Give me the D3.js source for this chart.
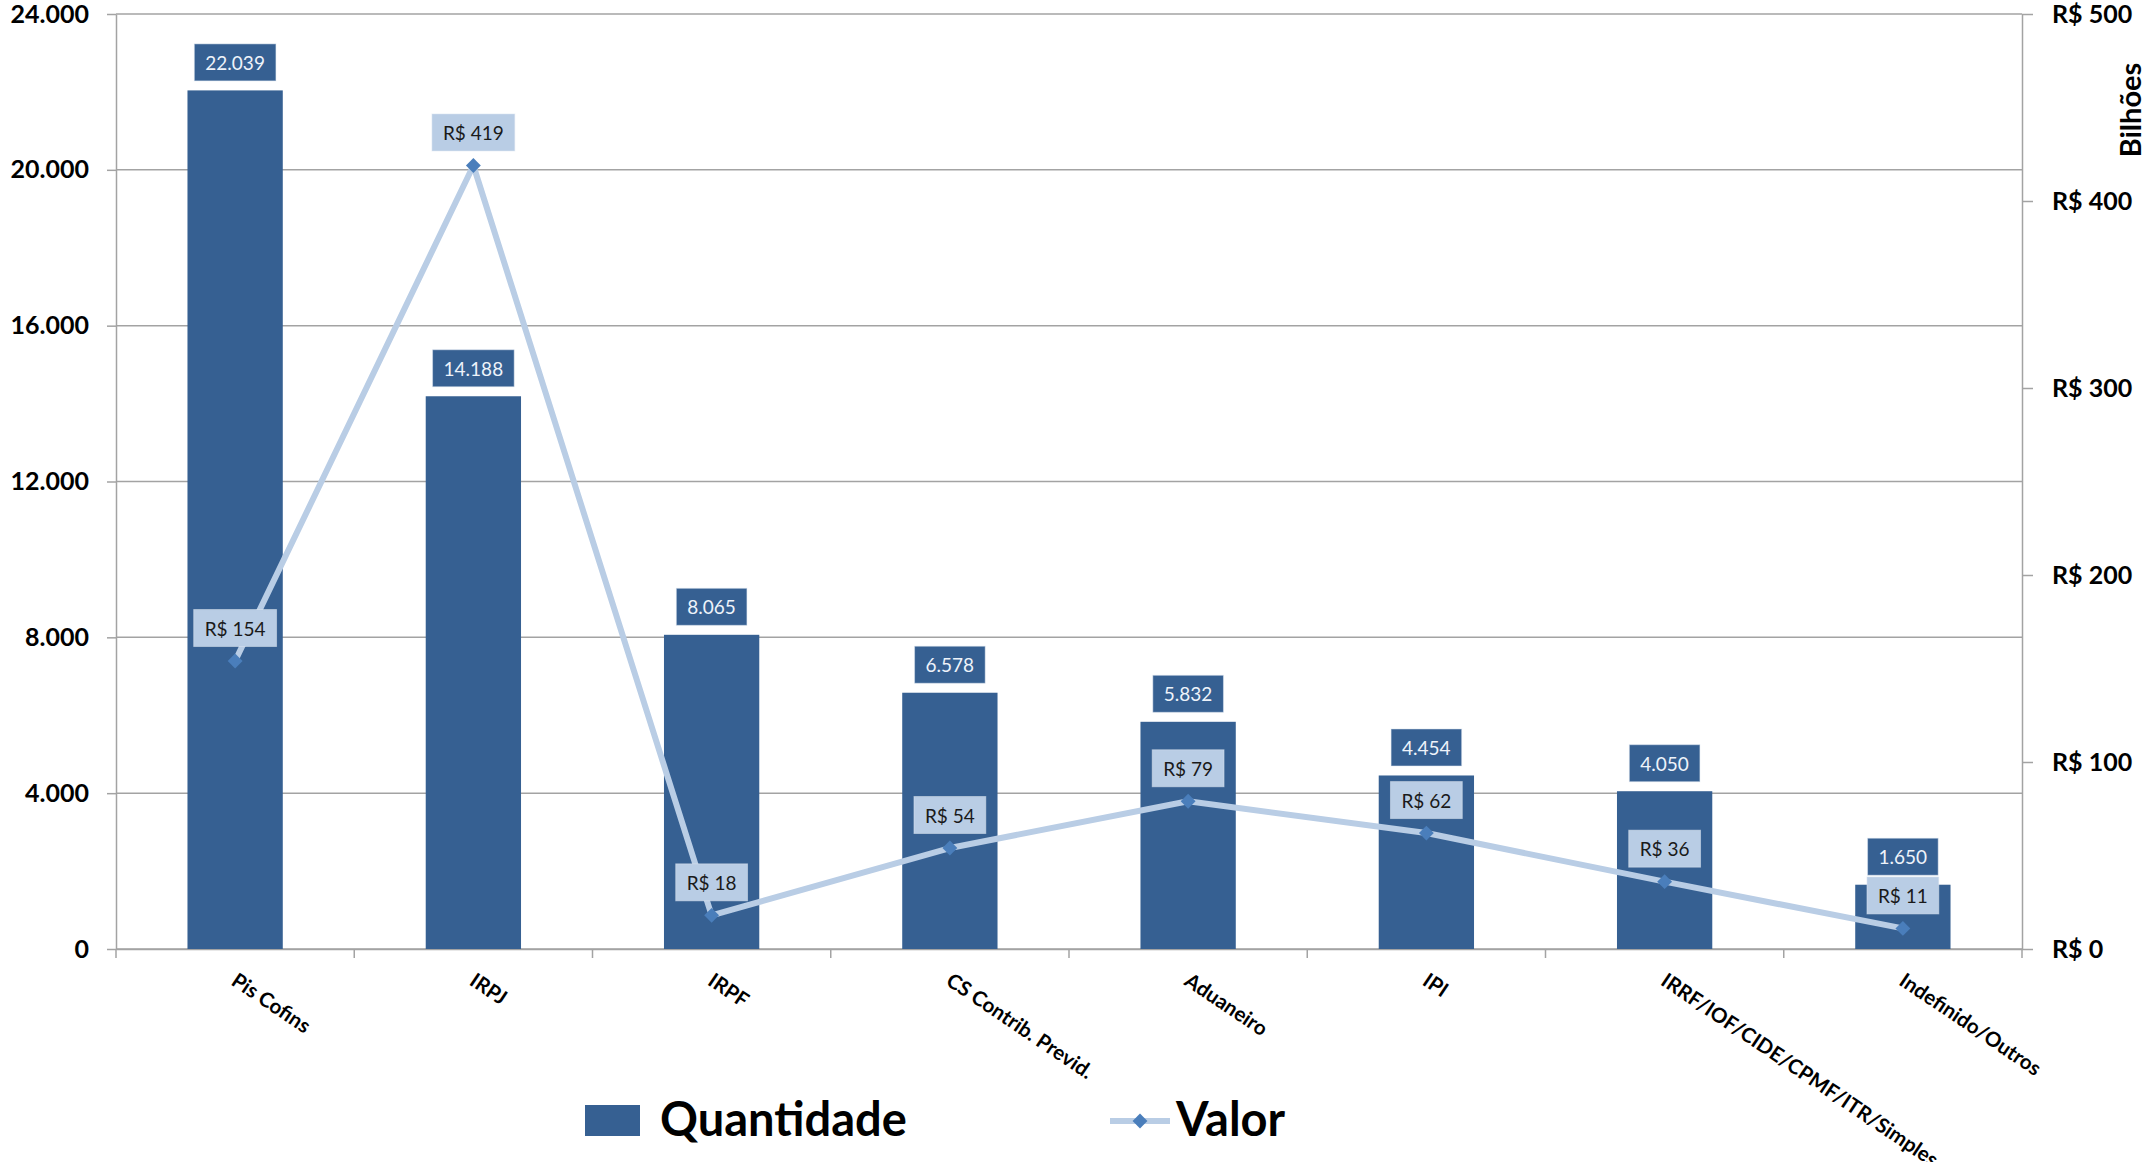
<!DOCTYPE html>
<html>
<head>
<meta charset="utf-8">
<script src="https://cdn.jsdelivr.net/npm/d3@7"></script>
<style>
  body { margin: 0; background: #fff; }
  svg { display: block; font-family: Lato, "Open Sans", sans-serif; }
</style>
</head>
<body>
<svg id="chart" width="2147" height="1162"></svg>
<script>
const categories = ["Pis Cofins", "IRPJ", "IRPF", "CS Contrib. Previd.", "Aduaneiro", "IPI",
    "IRRF/IOF/CIDE/CPMF/ITR/Simples", "Indefinido/Outros"];
const quantidade = [22039, 14188, 8065, 6578, 5832, 4454, 4050, 1650];
const valor = [154, 419, 18, 54, 79, 62, 36, 11];
const leftTicks = [0, 4000, 8000, 12000, 16000, 20000, 24000];
const rightTicks = [0, 100, 200, 300, 400, 500];
const legendLabels = ["Quantidade", "Valor"];

const barColor = "#366092";
const lineColor = "#b9cde5";
const markerColor = "#4a7ebb";
const gridColor = "#a3a3a3";

const ptBR = d3.formatLocale({decimal: ",", thousands: ".", grouping: [3], currency: ["R$ ", ""]});
const fmtNum = ptBR.format(",d");
const fmtReal = d => `R$ ${d}`;

const svg = d3.select("#chart");
const margin = {top: 14, right: 125, bottom: 213, left: 116};
const width = 2147 - margin.left - margin.right;
const height = 1162 - margin.top - margin.bottom;

const g = svg.append("g").attr("transform", `translate(${margin.left},${margin.top})`);

// scales
const x = d3.scaleBand().domain(categories).range([0, width]).padding(0);
const yLeft = d3.scaleLinear().domain([0, 24000]).range([height, 0]);
const yRight = d3.scaleLinear().domain([0, 500]).range([height, 0]);
const barW = x.bandwidth() * 0.4;

// gridlines
g.selectAll(".grid")
    .data(leftTicks)
    .enter().append("line")
    .attr("x1", 0).attr("x2", width)
    .attr("y1", d => yLeft(d)).attr("y2", d => yLeft(d))
    .attr("stroke", gridColor)
    .attr("stroke-width", 1.5);

// left axis
const leftAxis = g.append("g")
    .call(d3.axisLeft(yLeft).tickValues(leftTicks).tickFormat(fmtNum).tickSize(9).tickSizeOuter(0).tickPadding(18));
leftAxis.selectAll("path, line").attr("stroke", gridColor).attr("stroke-width", 1.5);
leftAxis.selectAll("text")
    .attr("font-family", "Lato")
    .attr("font-size", "25px")
    .attr("font-weight", "bold")
    .attr("fill", "#000");

// right axis
const rightAxis = g.append("g")
    .attr("transform", `translate(${width},0)`)
    .call(d3.axisRight(yRight).tickValues(rightTicks).tickFormat(fmtReal).tickSize(11).tickSizeOuter(0).tickPadding(19));
rightAxis.selectAll("path, line").attr("stroke", gridColor).attr("stroke-width", 1.5);
rightAxis.selectAll("text")
    .attr("font-family", "Lato")
    .attr("font-size", "25px")
    .attr("font-weight", "bold")
    .attr("fill", "#000");

svg.append("text")
    .attr("transform", "translate(2141,110) rotate(-90)")
    .attr("text-anchor", "middle")
    .attr("font-size", "29px")
    .attr("font-weight", "bold")
    .text("Bilhões");

// x axis: ticks at category boundaries
const xAxis = g.append("g")
    .attr("transform", `translate(0,${height})`)
    .call(d3.axisBottom(x).tickSize(0).tickSizeOuter(0).tickPadding(0));
xAxis.select(".domain").attr("stroke", gridColor).attr("stroke-width", 1.5);
xAxis.selectAll("text")
    .attr("y", 0)
    .attr("dy", "0.7em")
    .attr("text-anchor", "start")
    .attr("transform", "translate(3,23) rotate(34)")
    .attr("font-family", "Lato")
    .attr("font-size", "20.5px")
    .attr("font-weight", "bold")
    .attr("fill", "#000");
g.selectAll(".xbound")
    .data(d3.range(categories.length + 1))
    .enter().append("line")
    .attr("x1", i => i * x.step()).attr("x2", i => i * x.step())
    .attr("y1", height).attr("y2", height + 9)
    .attr("stroke", gridColor)
    .attr("stroke-width", 1.5);

// bars
g.selectAll(".bar")
    .data(quantidade)
    .enter().append("rect")
    .attr("x", (d, i) => x(categories[i]) + (x.bandwidth() - barW) / 2)
    .attr("y", d => yLeft(d))
    .attr("width", barW)
    .attr("height", d => height - yLeft(d))
    .attr("fill", barColor);

// label box helper
function boxLabel(parent, cx, cy, txt, fill, textFill) {
    const lg = parent.append("g");
    const t = lg.append("text")
        .attr("x", cx).attr("y", cy)
        .attr("text-anchor", "middle")
        .attr("dominant-baseline", "central")
        .attr("font-size", "19px")
        .attr("fill", textFill)
        .text(txt);
    const w = t.node().getComputedTextLength() + 22;
    lg.insert("rect", "text")
        .attr("x", cx - w / 2).attr("y", cy - 18.5)
        .attr("width", w).attr("height", 37)
        .attr("fill", fill)
        .attr("stroke", "#dfe7f1")
        .attr("stroke-opacity", 0.5)
        .attr("stroke-width", 1);
}

// bar labels
quantidade.forEach((d, i) => {
    boxLabel(g, x(categories[i]) + x.bandwidth() / 2, yLeft(d) - 28, fmtNum(d), barColor, "#eef3fa");
});

// line
const line = d3.line()
    .x((d, i) => x(categories[i]) + x.bandwidth() / 2)
    .y(d => yRight(d));
g.append("path")
    .datum(valor)
    .attr("d", line)
    .attr("fill", "none")
    .attr("stroke", lineColor)
    .attr("stroke-width", 6)
    .attr("stroke-linejoin", "round");

g.selectAll(".marker")
    .data(valor)
    .enter().append("path")
    .attr("d", d3.symbol().type(d3.symbolSquare).size(110))
    .attr("transform", (d, i) => `translate(${x(categories[i]) + x.bandwidth() / 2},${yRight(d)}) rotate(45)`)
    .attr("fill", markerColor);

// line labels
valor.forEach((d, i) => {
    boxLabel(g, x(categories[i]) + x.bandwidth() / 2, yRight(d) - 33, fmtReal(d), lineColor, "#1a1a1a");
});

// legend
const legend = svg.append("g");
legend.append("rect")
    .attr("x", 585).attr("y", 1105)
    .attr("width", 55).attr("height", 31)
    .attr("fill", barColor);
legend.append("text")
    .attr("x", 660).attr("y", 1136)
    .attr("font-size", "47px")
    .attr("font-weight", "bold")
    .text(legendLabels[0]);
legend.append("line")
    .attr("x1", 1110).attr("x2", 1170)
    .attr("y1", 1121).attr("y2", 1121)
    .attr("stroke", lineColor)
    .attr("stroke-width", 6);
legend.append("path")
    .attr("d", d3.symbol().type(d3.symbolSquare).size(110))
    .attr("transform", "translate(1140,1121) rotate(45)")
    .attr("fill", markerColor);
legend.append("text")
    .attr("x", 1176).attr("y", 1136)
    .attr("font-size", "47px")
    .attr("font-weight", "bold")
    .text(legendLabels[1]);
</script>
</body>
</html>
